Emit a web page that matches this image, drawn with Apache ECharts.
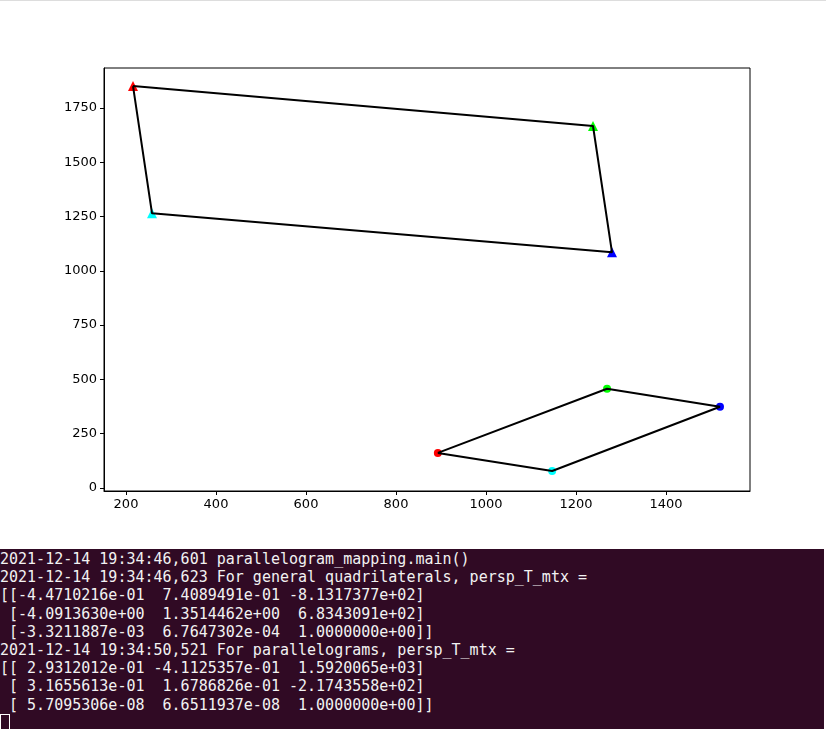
<!DOCTYPE html>
<html><head><meta charset="utf-8">
<script src="https://cdn.jsdelivr.net/npm/echarts@6/dist/echarts.min.js"></script>
<style>
body{margin:0;background:#fff;width:826px;height:729px;overflow:hidden}
#c{width:826px;height:549px;border-top:1px solid #ddd;box-sizing:border-box}
#t{position:absolute;left:0;top:549px;width:824px;height:180px;background:#300a24;color:#f2f2f2;
font-family:"DejaVu Sans Mono",monospace;font-size:15px;line-height:18.2px;white-space:pre;padding-top:1px}
#cur{display:inline-block;width:8px;height:18px;border:1px solid #fff;vertical-align:top}
</style></head><body>
<div id="c"></div>
<div id="t"></div>
<script>
const quadX=[215.6,1237.8,1280,257.8];
const quadY=[1851,1667,1085,1265];
const paraX=[893,1269,1520,1147];
const paraY=[161.6,457,374,78];
const pointColors=['#ff0000','#00ff00','#0000ff','#00ffff'];
const xTicks=[200,400,600,800,1000,1200,1400];
const yTicks=[0,250,500,750,1000,1250,1500,1750];
const termLines=[
"2021-12-14 19:34:46,601 parallelogram_mapping.main()",
"2021-12-14 19:34:46,623 For general quadrilaterals, persp_T_mtx =",
"[[-4.4710216e-01  7.4089491e-01 -8.1317377e+02]",
" [-4.0913630e+00  1.3514462e+00  6.8343091e+02]",
" [-3.3211887e-03  6.7647302e-04  1.0000000e+00]]",
"2021-12-14 19:34:50,521 For parallelograms, persp_T_mtx =",
"[[ 2.9312012e-01 -4.1125357e-01  1.5920065e+03]",
" [ 3.1655613e-01  1.6786826e-01 -2.1743558e+02]",
" [ 5.7095306e-08  6.6511937e-08  1.0000000e+00]]"];
const t=document.getElementById('t');
t.textContent=termLines.join('\n')+'\n';
const cur=document.createElement('span');cur.id='cur';t.appendChild(cur);

function closed(xs,ys){const d=xs.map((x,i)=>[x,ys[i]]);d.push(d[0]);return d;}
const series=[
 {type:'line',data:closed(quadX,quadY),symbol:'none',lineStyle:{color:'#000',width:2},silent:true},
 {type:'line',data:closed(paraX,paraY),symbol:'none',lineStyle:{color:'#000',width:2},silent:true},
 {type:'scatter',symbol:'triangle',symbolSize:10,
  data:quadX.map((x,i)=>({value:[x,quadY[i]],itemStyle:{color:pointColors[i],opacity:1}}))},
 {type:'scatter',symbol:'circle',symbolSize:8,
  data:paraX.map((x,i)=>({value:[x,paraY[i]],itemStyle:{color:pointColors[i],opacity:1}}))}
];
const fmt=v=>String(Math.round(v));
function axis(min,max,ticks){return {type:'value',min:min,max:max,
 axisLine:{onZero:false,lineStyle:{color:'#000'}},splitLine:{show:false},
 axisLabel:{color:'#000',fontSize:13,fontFamily:'DejaVu Sans',margin:7,formatter:fmt,customValues:ticks},
 axisTick:{inside:false,length:4,lineStyle:{color:'#000'},customValues:ticks}};}
const chart=echarts.init(document.getElementById('c'),null,{renderer:'canvas'});
chart.setOption({
 animation:false,
 grid:{left:104,right:76,top:67,bottom:58,show:true,borderColor:'#000',borderWidth:1},
 xAxis:axis(151.1,1586.7,xTicks),
 yAxis:axis(-13.9,1934,yTicks),
 series:series
});
</script></body></html>
